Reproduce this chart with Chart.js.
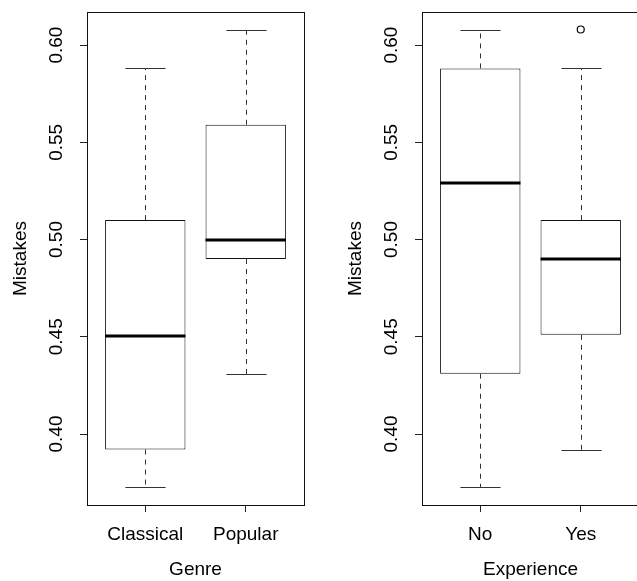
<!DOCTYPE html>
<html>
<head>
<meta charset="utf-8">
<script src="https://cdn.jsdelivr.net/npm/chart.js@4.4.1/dist/chart.umd.min.js"></script>
<style>
  html, body { margin: 0; padding: 0; background: #fff; overflow: hidden; }
  #wrap { position: relative; width: 637px; height: 581px; overflow: hidden; }
  canvas { position: absolute; top: 0; }
  #genreChart { left: 0; }
  #experienceChart { left: 335px; }
</style>
</head>
<body>
<div id="wrap">
  <canvas id="genreChart" width="335" height="581"></canvas>
  <canvas id="experienceChart" width="335" height="581"></canvas>
</div>
<script>
// left panel: Mistakes by Genre
const genreLabels = ['Classical', 'Popular'];
const genreLow = [0.373, 0.431];
const genreQ1 = [0.392, 0.490];
const genreMedian = [0.4505, 0.500];
const genreQ3 = [0.510, 0.559];
const genreHigh = [0.588, 0.608];
const genreOutliers = [[], []];

// right panel: Mistakes by Experience
const expLabels = ['No', 'Yes'];
const expLow = [0.373, 0.392];
const expQ1 = [0.431, 0.451];
const expMedian = [0.529, 0.490];
const expQ3 = [0.588, 0.510];
const expHigh = [0.608, 0.588];
const expOutliers = [[], [0.608]];

const yTicks = [0.40, 0.45, 0.50, 0.55, 0.60];

Chart.defaults.font.family = "'Liberation Sans', Arial, Helvetica, sans-serif";
Chart.defaults.font.size = 19;
Chart.defaults.color = '#000';

// whiskers, caps, medians and the frame, all placed with the chart's scales
const boxExtras = {
    id: 'boxExtras',
    afterDatasetsDraw(chart, args, opts) {
        const ctx = chart.ctx;
        const yScale = chart.scales.y;
        const bars = chart.getDatasetMeta(0).data;
        const area = chart.chartArea;
        ctx.save();
        bars.forEach((bar, i) => {
            const cx = Math.round(bar.x) + 0.5;
            const cap = bar.width / 4;
            const yLow = Math.round(yScale.getPixelForValue(opts.low[i])) + 0.5;
            const yHigh = Math.round(yScale.getPixelForValue(opts.high[i])) + 0.5;
            const yQ1 = yScale.getPixelForValue(opts.q1[i]);
            const yQ3 = yScale.getPixelForValue(opts.q3[i]);

            ctx.lineWidth = 1;
            ctx.strokeStyle = '#333';
            ctx.setLineDash([5, 5]);
            ctx.beginPath();
            ctx.moveTo(cx, yQ3);
            ctx.lineTo(cx, yHigh);
            ctx.moveTo(cx, yQ1);
            ctx.lineTo(cx, yLow);
            ctx.stroke();

            ctx.setLineDash([]);
            ctx.beginPath();
            ctx.moveTo(cx - cap, yHigh);
            ctx.lineTo(cx + cap, yHigh);
            ctx.moveTo(cx - cap, yLow);
            ctx.lineTo(cx + cap, yLow);
            ctx.stroke();

            const yMed = Math.round(yScale.getPixelForValue(opts.median[i]));
            ctx.lineWidth = 3;
            ctx.strokeStyle = '#000';
            ctx.beginPath();
            ctx.moveTo(bar.x - bar.width / 2, yMed);
            ctx.lineTo(bar.x + bar.width / 2, yMed);
            ctx.stroke();
        });
        ctx.lineWidth = 1;
        ctx.strokeStyle = '#111';
        ctx.strokeRect(Math.round(area.left) + 0.5, Math.round(area.top) + 0.5,
            Math.round(area.right - area.left), Math.round(area.bottom - area.top));
        ctx.restore();
    }
};

function makeBoxChart(canvasId, labels, low, q1, median, q3, high, outliers, xTitle) {
    const outlierPoints = [];
    outliers.forEach((list, i) => {
        list.forEach(v => outlierPoints.push({ x: i + 1, y: v }));
    });

    return new Chart(document.getElementById(canvasId), {
        type: 'bar',
        data: {
            datasets: [
                {
                    data: labels.map((l, i) => ({ x: i + 1, y: [q1[i], q3[i]] })),
                    backgroundColor: '#fff',
                    borderColor: '#111',
                    borderWidth: 1,
                    borderSkipped: false,
                    barPercentage: 0.8,
                    categoryPercentage: 1
                },
                {
                    type: 'scatter',
                    data: outlierPoints,
                    pointStyle: 'circle',
                    pointRadius: 3.5,
                    pointBackgroundColor: '#fff',
                    pointBorderColor: '#000',
                    pointBorderWidth: 1.2
                }
            ]
        },
        options: {
            responsive: false,
            animation: false,
            layout: { padding: { top: 12, right: 31, left: 0, bottom: 0 } },
            plugins: {
                legend: { display: false },
                tooltip: { enabled: false },
                boxExtras: { low, q1, median, q3, high }
            },
            scales: {
                x: {
                    type: 'linear',
                    offset: false,
                    min: 0.42,
                    max: 2.58,
                    afterBuildTicks: s => { s.ticks = labels.map((l, i) => ({ value: i + 1 })); },
                    afterFit: s => { s.height = 76; s.paddingLeft = 0; s.paddingRight = 0; },
                    grid: { offset: false, drawOnChartArea: false, tickLength: 7, color: '#222' },
                    border: { color: '#222' },
                    ticks: {
                        padding: 11,
                        maxRotation: 0,
                        autoSkip: false,
                        callback: v => labels[Math.round(v) - 1]
                    },
                    title: { display: true, text: xTitle, padding: { top: 12, bottom: 0 } }
                },
                y: {
                    min: 0.3635,
                    max: 0.617,
                    afterBuildTicks: s => { s.ticks = yTicks.map(v => ({ value: v })); },
                    afterFit: s => { s.width = 87; s.paddingTop = 0; s.paddingBottom = 0; },
                    grid: { drawOnChartArea: false, tickLength: 7, color: '#222' },
                    border: { color: '#222' },
                    ticks: {
                        minRotation: 90,
                        maxRotation: 90,
                        crossAlign: 'center',
                        padding: 5,
                        callback: v => v.toFixed(2)
                    },
                    title: { display: true, text: 'Mistakes', padding: { top: 9, bottom: 0 } }
                }
            }
        },
        plugins: [boxExtras]
    });
}

makeBoxChart('genreChart', genreLabels, genreLow, genreQ1, genreMedian, genreQ3, genreHigh, genreOutliers, 'Genre');
makeBoxChart('experienceChart', expLabels, expLow, expQ1, expMedian, expQ3, expHigh, expOutliers, 'Experience');
</script>
</body>
</html>
